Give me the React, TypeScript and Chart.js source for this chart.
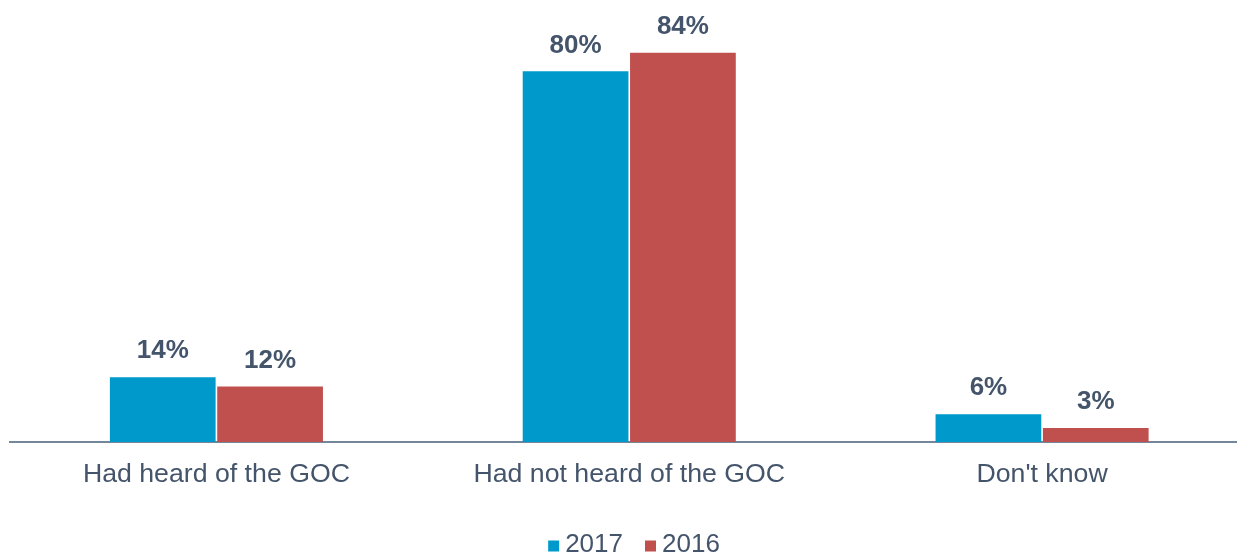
import React, { useEffect, useRef } from "react";
import { Chart, registerables } from "chart.js";

Chart.register(...registerables);

const categories = ["Had heard of the GOC", "Had not heard of the GOC", "Don't know"];
const seriesLabels = ["2017", "2016"];
const values2017 = [14, 80, 6];
const values2016 = [12, 84, 3];
const colors = ["#0099CC", "#C0504D"];

const FONT = "'Liberation Sans', Arial, sans-serif";
const TEXT_COLOR = "#44546A";

const labelPlugin = {
  id: "valueLabels",
  afterDatasetsDraw(chart: any) {
    const ctx = chart.ctx;
    ctx.save();
    ctx.font = `bold 26px ${FONT}`;
    ctx.fillStyle = TEXT_COLOR;
    ctx.textAlign = "center";
    ctx.textBaseline = "middle";
    chart.data.datasets.forEach((ds: any, di: number) => {
      const meta = chart.getDatasetMeta(di);
      meta.data.forEach((el: any, i: number) => {
        ctx.fillText(`${ds.data[i]}%`, el.x, el.y - 26);
      });
    });
    ctx.restore();
  },
};

const legendPlugin = {
  id: "customLegend",
  afterDraw(chart: any) {
    const ctx = chart.ctx;
    ctx.save();
    ctx.font = `26px ${FONT}`;
    ctx.textBaseline = "middle";
    ctx.textAlign = "left";
    const box = 11;
    const gapBoxText = 6;
    const gapItems = 22;
    const items = chart.data.datasets.map((ds: any) => ({
      label: ds.label,
      color: ds.backgroundColor,
      w: ctx.measureText(ds.label).width,
    }));
    let total = 0;
    items.forEach((it: any, i: number) => {
      total += box + gapBoxText + it.w + (i < items.length - 1 ? gapItems : 0);
    });
    const centerX = 634;
    const cy = 545;
    let x = centerX - total / 2;
    items.forEach((it: any) => {
      ctx.fillStyle = it.color;
      ctx.fillRect(x, cy - box / 2 + 1, box, box);
      x += box + gapBoxText;
      ctx.fillStyle = TEXT_COLOR;
      ctx.fillText(it.label, x, cy);
      x += it.w + gapItems;
    });
    ctx.restore();
  },
};

export default function App() {
  const ref = useRef<HTMLCanvasElement | null>(null);
  useEffect(() => {
    if (!ref.current) return;
    const chart = new Chart(ref.current, {
      type: "bar",
      data: {
        labels: categories,
        datasets: [
          { label: seriesLabels[0], data: values2017, backgroundColor: colors[0] },
          { label: seriesLabels[1], data: values2016, backgroundColor: colors[1] },
        ],
      },
      options: {
        responsive: false,
        animation: false,
        devicePixelRatio: 1,
        layout: { padding: { top: 25, bottom: 76, left: 10, right: 1.5 } },
        datasets: {
          bar: { categoryPercentage: 0.52, barPercentage: 0.985 },
        } as any,
        plugins: {
          legend: { display: false },
          tooltip: { enabled: false },
        },
        scales: {
          x: {
            grid: { display: false, drawTicks: false },
            border: { display: true, color: "#74869A", width: 2 },
            ticks: {
              color: TEXT_COLOR,
              font: { family: FONT, size: 26.7 },
              padding: 16.5,
              maxRotation: 0,
              autoSkip: false,
            },
            afterFit: (s: any) => {
              s.height = 40;
            },
          },
          y: {
            display: false,
            min: 0,
            max: 90,
          },
        },
      },
      plugins: [labelPlugin, legendPlugin],
    });
    return () => chart.destroy();
  }, []);
  return (
    <div
      style={{
        position: "absolute",
        left: 0,
        top: 0,
        width: 1237,
        height: 558,
        overflow: "hidden",
        background: "#fff",
      }}
    >
      <canvas ref={ref} width={1250} height={558} style={{ width: 1250, height: 558, display: "block" }} />
    </div>
  );
}
